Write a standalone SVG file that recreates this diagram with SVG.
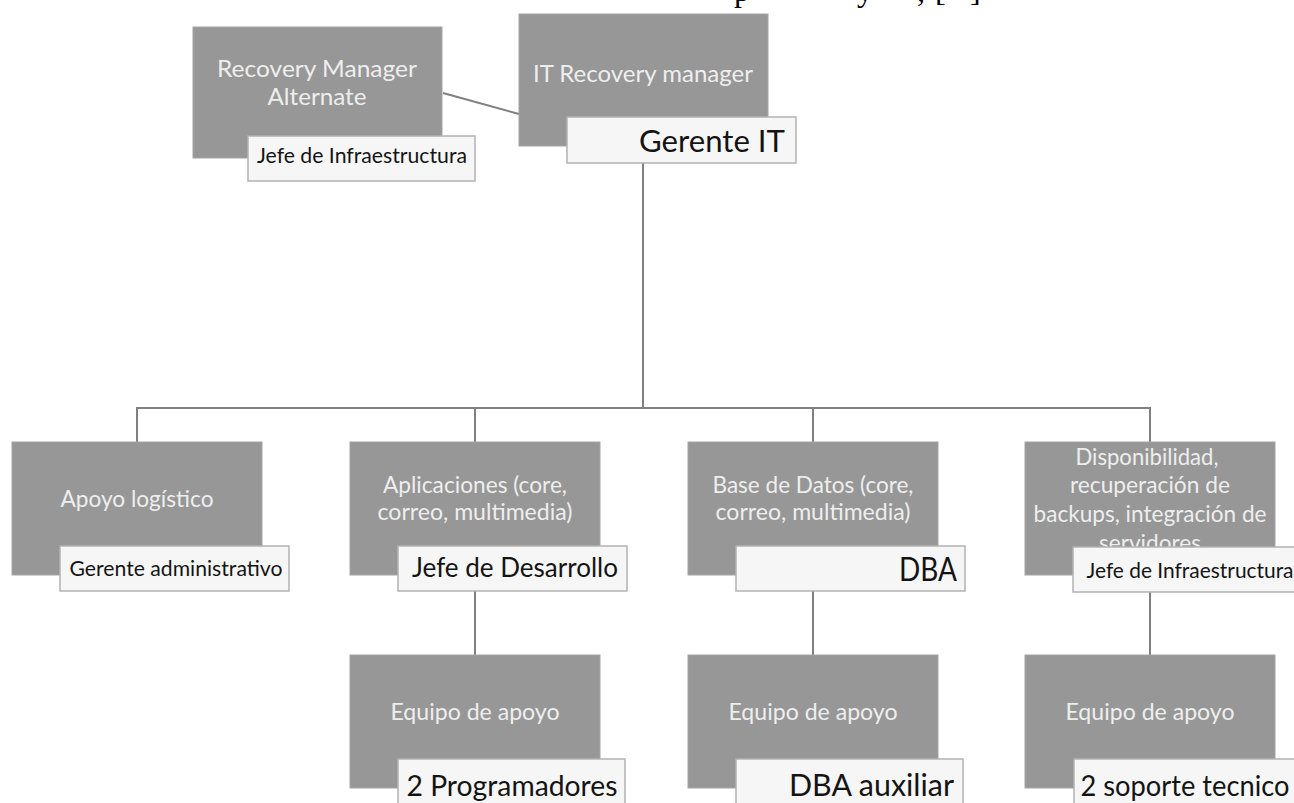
<svg xmlns="http://www.w3.org/2000/svg" width="1294" height="803" viewBox="0 0 1294 803">
<style>
.box{fill:#979797;stroke:#a4a4a4;stroke-width:1}
.lab{fill:#f6f6f6;stroke:#b2b2b2;stroke-width:1.5}
.bt{font-family:Lato,"Liberation Sans",sans-serif;fill:#eeeeee;text-anchor:middle}
.lt{font-family:Lato,"Liberation Sans",sans-serif;fill:#141414;text-anchor:middle}
.ltr{font-family:Lato,"Liberation Sans",sans-serif;fill:#141414;text-anchor:end}
.con{stroke:#808080;stroke-width:2;fill:none}
.top{font-family:"Liberation Serif",serif;font-size:32px;fill:#000}
</style>
<rect width="1294" height="803" fill="#ffffff"/>
<text class="top" y="1"><tspan x="734">p</tspan><tspan x="857">y</tspan><tspan x="917">,</tspan><tspan x="935">[</tspan><tspan x="970">]</tspan></text>
<g id="connectors">
<line class="con" x1="443" y1="93" x2="519" y2="114"/>
<line class="con" x1="643" y1="163" x2="643" y2="408"/>
<polyline class="con" points="137,442 137,408 1150,408 1150,442"/>
<line class="con" x1="475" y1="408" x2="475" y2="442"/>
<line class="con" x1="813" y1="408" x2="813" y2="442"/>
<line class="con" x1="475" y1="591" x2="475" y2="655"/>
<line class="con" x1="813" y1="591" x2="813" y2="655"/>
<line class="con" x1="1150" y1="591" x2="1150" y2="655"/>
</g>
<g id="node-recovery-alternate">
<rect class="box" x="193" y="27" width="249" height="131"/>
<text class="bt" x="317" y="77" font-size="24" textLength="200" lengthAdjust="spacingAndGlyphs">Recovery Manager</text>
<text class="bt" x="317" y="105" font-size="24" textLength="99" lengthAdjust="spacingAndGlyphs">Alternate</text>
<rect class="lab" x="248" y="136" width="227" height="45"/>
<text class="lt" x="362" y="163" font-size="21" textLength="210" lengthAdjust="spacingAndGlyphs">Jefe de Infraestructura</text>
</g>
<g id="node-it-recovery">
<rect class="box" x="519" y="14" width="249" height="132"/>
<text class="bt" x="643" y="82" font-size="24" textLength="220" lengthAdjust="spacingAndGlyphs">IT Recovery manager</text>
<rect class="lab" x="567" y="117" width="229" height="46"/>
<text class="ltr" x="785" y="152" font-size="31" textLength="146" lengthAdjust="spacingAndGlyphs">Gerente IT</text>
</g>
<g id="node-apoyo-logistico">
<rect class="box" x="12" y="442" width="250" height="133"/>
<text class="bt" x="137" y="507" font-size="22.5" textLength="153" lengthAdjust="spacingAndGlyphs">Apoyo logístico</text>
<rect class="lab" x="60" y="546" width="229" height="45"/>
<text class="lt" x="176" y="576" font-size="21" textLength="213" lengthAdjust="spacingAndGlyphs">Gerente administrativo</text>
</g>
<g id="node-aplicaciones">
<rect class="box" x="350" y="442" width="250" height="133"/>
<text class="bt" x="475" y="493" font-size="22.5" textLength="184" lengthAdjust="spacingAndGlyphs">Aplicaciones (core,</text>
<text class="bt" x="475" y="520" font-size="22.5" textLength="195" lengthAdjust="spacingAndGlyphs">correo, multimedia)</text>
<rect class="lab" x="398" y="546" width="229" height="45"/>
<text class="lt" x="515" y="577" font-size="26" textLength="206" lengthAdjust="spacingAndGlyphs">Jefe de Desarrollo</text>
</g>
<g id="node-base-datos">
<rect class="box" x="688" y="442" width="250" height="133"/>
<text class="bt" x="813" y="493" font-size="22.5" textLength="201" lengthAdjust="spacingAndGlyphs">Base de Datos (core,</text>
<text class="bt" x="813" y="520" font-size="22.5" textLength="195" lengthAdjust="spacingAndGlyphs">correo, multimedia)</text>
<rect class="lab" x="736" y="546" width="229" height="45"/>
<text class="ltr" x="957" y="581" font-size="32" textLength="58" lengthAdjust="spacingAndGlyphs">DBA</text>
</g>
<g id="node-disponibilidad">
<rect class="box" x="1025" y="442" width="250" height="133"/>
<text class="bt" x="1147" y="465" font-size="22.5" textLength="143" lengthAdjust="spacingAndGlyphs">Disponibilidad,</text>
<text class="bt" x="1150" y="493" font-size="22.5" textLength="160" lengthAdjust="spacingAndGlyphs">recuperación de</text>
<text class="bt" x="1150" y="522" font-size="22.5" textLength="233" lengthAdjust="spacingAndGlyphs">backups, integración de</text>
<text class="bt" x="1150" y="551" font-size="22.5" textLength="102" lengthAdjust="spacingAndGlyphs">servidores</text>
<rect class="lab" x="1073" y="547" width="229" height="45"/>
<text class="lt" x="1190" y="578" font-size="21" textLength="207" lengthAdjust="spacingAndGlyphs">Jefe de Infraestructura</text>
</g>
<g id="node-equipo-1">
<rect class="box" x="350" y="655" width="250" height="133"/>
<text class="bt" x="475" y="720" font-size="22.5" textLength="169" lengthAdjust="spacingAndGlyphs">Equipo de apoyo</text>
<rect class="lab" x="398" y="759" width="227" height="46"/>
<text class="lt" x="512" y="796" font-size="28" textLength="211" lengthAdjust="spacingAndGlyphs">2 Programadores</text>
</g>
<g id="node-equipo-2">
<rect class="box" x="688" y="655" width="250" height="133"/>
<text class="bt" x="813" y="720" font-size="22.5" textLength="169" lengthAdjust="spacingAndGlyphs">Equipo de apoyo</text>
<rect class="lab" x="736" y="759" width="227" height="46"/>
<text class="ltr" x="954" y="796" font-size="31" textLength="165" lengthAdjust="spacingAndGlyphs">DBA auxiliar</text>
</g>
<g id="node-equipo-3">
<rect class="box" x="1025" y="655" width="250" height="133"/>
<text class="bt" x="1150" y="720" font-size="22.5" textLength="169" lengthAdjust="spacingAndGlyphs">Equipo de apoyo</text>
<rect class="lab" x="1074" y="759" width="229" height="46"/>
<text class="lt" x="1185" y="796" font-size="28" textLength="209" lengthAdjust="spacingAndGlyphs">2 soporte tecnico</text>
</g>
</svg>
